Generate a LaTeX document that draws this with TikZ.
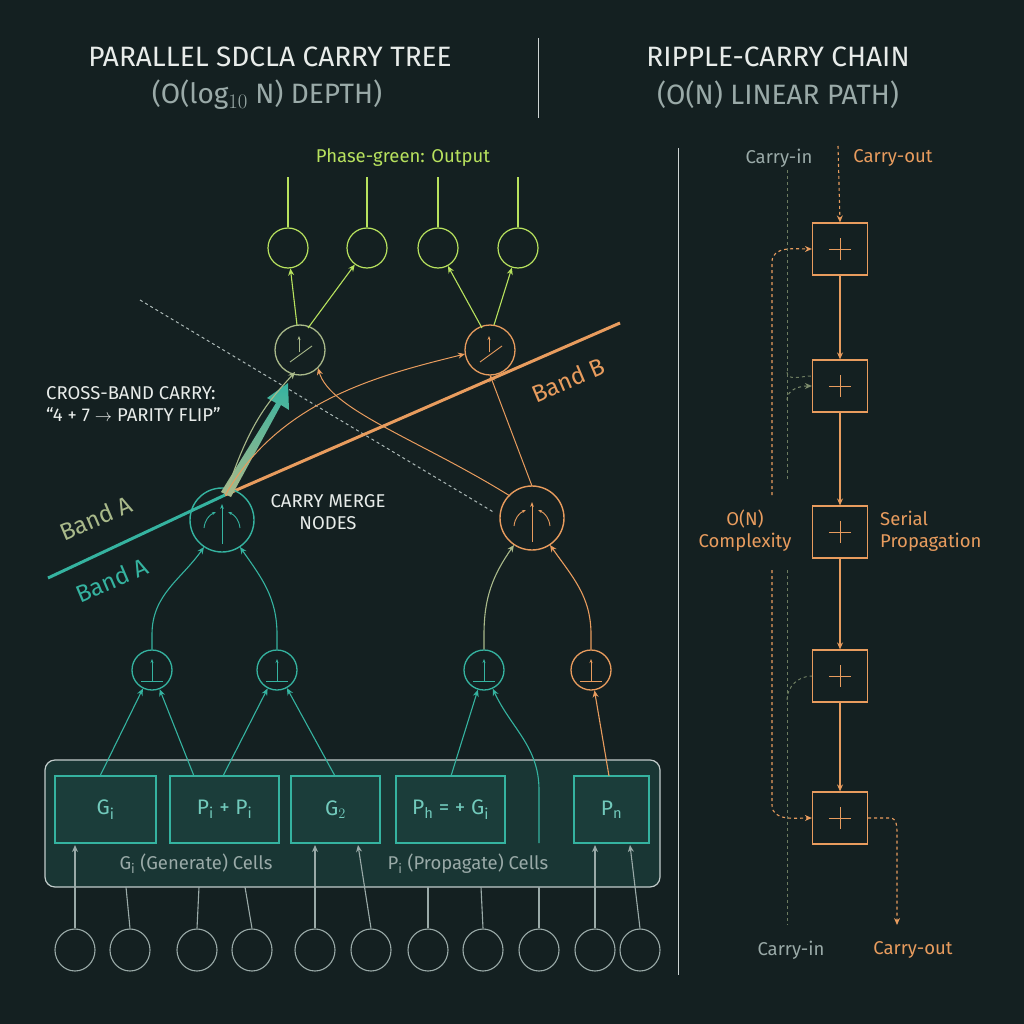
\documentclass[tikz,border=0pt]{standalone}
\usepackage{fontspec}
\setmainfont{Fira Sans}
\usetikzlibrary{arrows.meta,calc,shapes.geometric}
\definecolor{bg}{HTML}{142021}
\definecolor{teal}{HTML}{35B3A0}
\definecolor{org}{HTML}{E89C5E}
\definecolor{grn}{HTML}{B8E25E}
\definecolor{olv}{HTML}{A9B98A}
\definecolor{gry}{HTML}{9AAAA8}
\definecolor{wht}{HTML}{E8ECEA}
\begin{document}
\begin{tikzpicture}[x=1pt,y=-1pt,
  every node/.style={inner sep=0pt},
  arr/.style={-{Stealth[length=7pt,width=6pt]},line width=1.1pt},
  ln/.style={line width=1.1pt},
  cell/.style={draw=teal,line width=1.4pt,fill=bg!80!teal},
  inc/.style={draw=gry,line width=1.1pt,ellipse,minimum width=40pt,minimum height=42pt},
  rb/.style={draw=org,line width=1.2pt,minimum width=55pt,minimum height=52pt},
  lbl/.style={font=\fontsize{18.5}{22}\selectfont}]
\fill[bg] (0,0) rectangle (1024,1024);
\useasboundingbox (0,0) rectangle (1024,1024);
% titles
\node[wht,font=\fontsize{28}{30}\selectfont] (t1) at (270,57) {PARALLEL SDCLA CARRY TREE};
\node[gry,font=\fontsize{28}{30}\selectfont] (t2) at (267,95) {(O(log$_{10}$ N) DEPTH)};
\node[wht,font=\fontsize{28}{30}\selectfont] (t3) at (778,57) {RIPPLE-CARRY CHAIN};
\node[gry,font=\fontsize{28}{30}\selectfont] (t4) at (778,95) {(O(N) LINEAR PATH)};
\draw[gry!50,line width=1pt] (538,38) -- (538,118);
\draw[gry!50,line width=1pt] (678,148) -- (678,975);
% output
\node[grn,lbl] (pg) at (403,158) {Phase-green: Output};
\foreach \x/\n in {288/o1,367/o2,438/o3,518/o4}{
  \node[draw=grn,circle,line width=1.2pt,minimum size=40pt] (\n) at (\x,248) {};
  \draw[grn,ln] (\n.north) -- ++(0,-50);}
% mid nodes
\node[draw=olv,circle,line width=1.3pt,minimum size=50pt] (m1) at (300,350) {};
\node[draw=org,circle,line width=1.3pt,minimum size=50pt] (m2) at (490,350) {};
\foreach \m/\c in {m1/olv,m2/org}{
  \draw[\c,line width=0.9pt,-{Stealth[length=4pt]}] ($(\m)+(-1,2)$) -- ++(0,-16);
  \draw[\c,line width=0.9pt] ($(\m)+(-10,12)$) -- ($(\m)+(12,-4)$);}
\draw[grn,arr] ($(m1)+(-3,-25)$) -- (o1);
\draw[grn,arr] ($(m1)+(8,-22)$) -- (o2);
\draw[grn,arr] ($(m2)+(-8,-22)$) -- (o3);
\draw[grn,arr] ($(m2)+(4,-25)$) -- (o4);
% dashed diagonal
\coordinate (d1) at (140,300); \coordinate (d2) at (495,513);
\draw[gry!80,dashed,line width=1pt] (d1) -- (d2);
% bands
\coordinate (ba) at (48,578); \coordinate (bm) at (225,495); \coordinate (bb) at (620,323);
\draw[teal,line width=3pt] (ba) -- (bm);
\draw[org,line width=3pt] (bm) -- (bb);
\node[org,font=\fontsize{24}{26}\selectfont,rotate=23] (lbB) at (568,380) {Band B};
\node[olv,font=\fontsize{24}{26}\selectfont,rotate=23] (lbA1) at (96,518) {Band A};
\node[teal,font=\fontsize{24}{26}\selectfont,rotate=23] (lbA2) at (112,580) {Band A};
% merge nodes
\node[draw=teal,circle,line width=1.4pt,minimum size=64pt] (g1) at (222,520) {};
\node[draw=org,circle,line width=1.4pt,minimum size=64pt] (g2) at (532,518) {};
\foreach \m/\c in {g1/teal,g2/org}{
  \draw[\c,line width=0.9pt,-{Stealth[length=5pt]}] ($(\m)+(0,24)$) -- ++(0,-40);
  \draw[\c,line width=0.9pt,-{Stealth[length=4pt]}] ($(\m)+(-18,8)$) to[bend left=30] ($(\m)+(-6,-8)$);
  \draw[\c,line width=0.9pt,-{Stealth[length=4pt]}] ($(\m)+(18,8)$) to[bend right=30] ($(\m)+(6,-8)$);}
\node[wht,lbl,align=center] (cm) at (328,512) {CARRY MERGE\\NODES};
\node[wht,lbl,align=left,anchor=west] (cb) at (46,404) {CROSS-BAND CARRY:\\``4 + 7 $\rightarrow$ PARITY FLIP''};
% cross-band arrows
\coordinate (s) at (226,494);
\shade[left color=teal,right color=olv,shading angle=0] (221,492) -- (276,403) -- (267,398) -- (288,383) -- (289,410) -- (281,405) -- (231,497) -- cycle;
\draw[olv,arr] (s) .. controls (250,420) and (270,400) .. ($(m1)+(-5,22)$);
\draw[org,arr,line width=1pt] (s) .. controls (280,400) and (380,375) .. ($(m2)+(-25,4)$);
\draw[org,arr,line width=1pt] ($(g2)+(-22,-22)$) .. controls (420,440) and (330,410) .. ($(m1)+(18,18)$);
\draw[org,arr,line width=1pt] ($(g2)+(0,-32)$) -- ($(m2)+(0,25)$);
% level 1
\foreach \x/\n/\c in {152/l1/teal,277/l2/teal,484/l3/teal,591/l4/org}{
  \node[draw=\c,circle,line width=1.3pt,minimum size=40pt] (\n) at (\x,670) {};
  \draw[\c,line width=0.9pt,-{Stealth[length=4pt]}] ($(\n)+(0,11)$) -- ++(0,-22);
  \draw[\c,line width=0.9pt] ($(\n)+(-11,11)$) -- ++(22,0);}
\draw[teal,arr] (l1.north) -- ++(0,-15) to[out=90,in=235] ($(g1)+(-18,27)$);
\draw[teal,arr] (l2.north) -- ++(0,-15) to[out=90,in=305] ($(g1)+(18,27)$);
\draw[olv,arr] (l3.north) -- ++(0,-15) to[out=90,in=235] ($(g2)+(-18,27)$);
\draw[org,arr] (l4.north) -- ++(0,-15) to[out=90,in=305] ($(g2)+(18,27)$);
% panel
\draw[gry!60,line width=1.2pt,fill=teal!15!bg,rounded corners=10pt] (45,760) rectangle (660,887);
\node[cell,minimum width=101pt,minimum height=67pt] (c1) at (105.5,809.5) {};
\node[cell,minimum width=109pt,minimum height=67pt] (c2) at (224.5,809.5) {};
\node[cell,minimum width=89pt,minimum height=67pt] (c3) at (335.5,809.5) {};
\node[cell,minimum width=109pt,minimum height=67pt] (c4) at (450.5,809.5) {};
\node[cell,minimum width=75pt,minimum height=67pt] (c5) at (611.5,809.5) {};
\node[teal!70!white,font=\fontsize{21}{22}\selectfont] at (c1) {G$_\mathrm{i}$};
\node[teal!70!white,font=\fontsize{21}{22}\selectfont] at (c2) {P$_\mathrm{i}$ + P$_\mathrm{i}$};
\node[teal!70!white,font=\fontsize{21}{22}\selectfont] at (c3) {G$_2$};
\node[teal!70!white,font=\fontsize{21}{22}\selectfont] at (c4) {P$_\mathrm{h}$ = + G$_\mathrm{i}$};
\node[teal!70!white,font=\fontsize{21}{22}\selectfont] at (c5) {P$_\mathrm{n}$};
\node[gry,lbl] (gl) at (196,864) {G$_\mathrm{i}$ (Generate) Cells};
\node[gry,lbl] (pl) at (468,864) {P$_\mathrm{i}$ (Propagate) Cells};
\draw[teal,arr] (100,776) -- (l1);
\draw[teal,arr] (194,776) -- (l1);
\draw[teal,arr] (223,776) -- (l2);
\draw[teal,arr] (335,776) -- (l2);
\draw[teal,arr] (451,776) -- (l3);
\draw[teal,arr] (539,843) -- (539,790) to[out=90,in=-65] (l3);
\draw[org,arr] (609,776) -- (l4);
% inputs
\foreach \x/\n in {75/i1,130/i2,197/i3,252/i4,315/i5,371/i6,428/i7,483/i8,539/i9,595/i10,640/i11}{
  \node[inc] (\n) at (\x,950) {};}
\draw[gry,arr] (i1.north) -- (75,845);
\draw[gry,ln] (i2.north) -- (126,887);
\draw[gry,ln] (i3.north) -- (199,887);
\draw[gry,ln] (i4.north) -- (245,887);
\draw[gry,arr] (i5.north) -- (315,845);
\draw[gry,arr] (i6.north) -- (358,845);
\draw[gry,ln] (i7.north) -- (428,887);
\draw[gry,ln] (i8.north) -- (481,887);
\draw[gry,ln] (i9.north) -- (539,887);
\draw[gry,arr] (i10.north) -- (595,845);
\draw[gry,arr] (i11.north) -- (630,845);
% ripple chain
\node[gry,lbl] (ci1) at (779,158) {Carry-in};
\node[org,lbl] (co1) at (893,158) {Carry-out};
\node[gry,lbl] (ci2) at (791,950) {Carry-in};
\node[org,lbl] (co2) at (913,950) {Carry-out};
\foreach \y/\n in {249/r1,386/r2,532/r3,676/r4,818/r5}{
  \node[rb] (\n) at (840,\y) {};
  \draw[org,line width=1pt] ($(\n)+(-11,0)$) -- ++(22,0) ($(\n)+(0,-11)$) -- ++(0,22);}
\draw[org,arr,dashed] (838,146) -- (r1.north);
\draw[org,arr] (r1) -- (r2);
\draw[org,arr] (r2) -- (r3);
\draw[org,arr] (r3) -- (r4);
\draw[org,arr] (r4) -- (r5);
\draw[org,arr,dashed] (772,495) -- (772,262) to[out=90,in=180] (r1.west);
\draw[org,arr,dashed] (772,570) -- (772,805) to[out=-90,in=180] (r5.west);
\draw[olv!60!bg,dashed,line width=1pt] (787,170) -- (787,480);
\draw[olv!60!bg,dashed,line width=1pt] (787,570) -- (787,925);
\draw[olv!70!bg,arr,dashed,line width=1pt] (787,400) to[out=90,in=180] (r2.west);
\draw[olv!60!bg,dashed,line width=1pt] (787,372) to[out=-90,in=180] (811,376);
\draw[olv!60!bg,dashed,line width=1pt] (787,700) to[out=90,in=180] (r4.west);
\draw[org,arr,dashed] (r5.east) -- (890,818) to[out=0,in=90] (897,835) -- (897,925);
\node[org,lbl,align=center] (on) at (745,531) {O(N)\\Complexity};
\node[org,lbl,align=left,anchor=west] (sp) at (880,531) {Serial\\Propagation};
\end{tikzpicture}
\end{document}
